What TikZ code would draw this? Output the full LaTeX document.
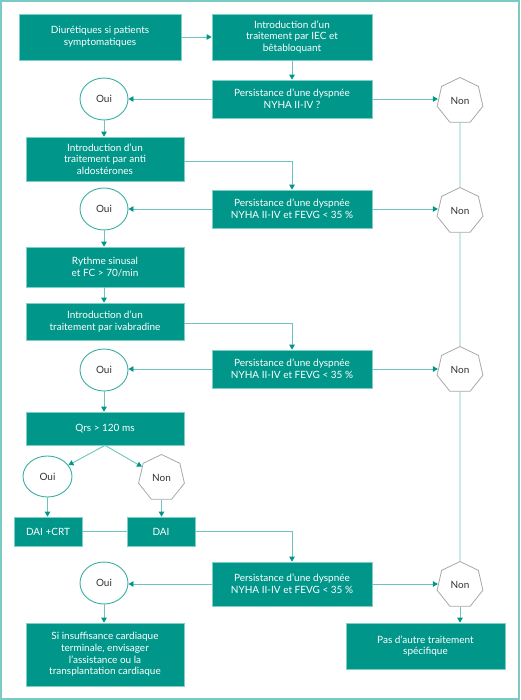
\documentclass[tikz,border=0pt]{standalone}
\usepackage{fontspec}
\setmainfont{Lato}
\usetikzlibrary{shapes.geometric,arrows.meta}
\definecolor{boxfill}{HTML}{00968A}
\definecolor{boxedge}{HTML}{7FCFC7}
\definecolor{linec}{HTML}{6CC6BE}
\definecolor{tipc}{HTML}{00968A}
\definecolor{ouic}{HTML}{3AAFA4}
\definecolor{nonc}{HTML}{A8A8A8}
\definecolor{framec}{HTML}{7ACBC3}
\definecolor{txtc}{HTML}{333333}
\tikzset{
  stepbox/.style={rectangle, fill=boxfill, draw=boxedge, line width=0.7pt, text=white, align=center, inner sep=0pt, font=\fontsize{10}{11.7}\selectfont},
  ouinode/.style={ellipse, draw=ouic, fill=white, line width=0.9pt, minimum width=48pt, minimum height=42pt, inner sep=0pt, text=txtc, font=\fontsize{10}{11.7}\selectfont},
  nonnode/.style={regular polygon, regular polygon sides=7, draw=nonc, fill=white, line width=0.8pt, minimum size=47pt, inner sep=0pt, text=txtc, font=\fontsize{10}{11.7}\selectfont},
  conn/.style={draw=linec, line width=0.9pt},
  arr/.style={conn, -{Triangle[length=5pt,width=5.5pt,color=tipc]}},
}
\begin{document}
\begin{tikzpicture}[x=1pt,y=-1pt]
\useasboundingbox (0,0) rectangle (520,700);
\draw[framec, line width=2pt] (1,1) rectangle (519,699);

% nodes
\node[stepbox, minimum width=162pt, minimum height=46pt] (b1) at (100,37) {Diurétiques si patients\\symptomatiques};
\node[stepbox, minimum width=160pt, minimum height=46pt] (b2) at (292,37) {Introduction d’un\\traitement par IEC et\\bêtabloquant};
\node[stepbox, minimum width=160pt, minimum height=38pt] (b3) at (292,99) {Persistance d’une dyspnée\\NYHA II-IV ?};
\node[ouinode] (o1) at (104,99) {Oui};
\node[nonnode] (n1) at (460,101) {Non};

\node[stepbox, minimum width=158pt, minimum height=44pt] (b4) at (105,159) {Introduction d’un\\traitement par anti\\aldostérones};
\node[stepbox, minimum width=160pt, minimum height=38pt] (b5) at (292,209) {Persistance d’une dyspnée\\NYHA II-IV et FEVG < 35 \%};
\node[ouinode] (o2) at (104,209) {Oui};
\node[nonnode] (n2) at (460,211) {Non};

\node[stepbox, minimum width=158pt, minimum height=40pt] (b6) at (105,267) {Rythme sinusal\\et FC > 70/min};
\node[stepbox, minimum width=158pt, minimum height=37pt] (b7) at (105,321.5) {Introduction d’un\\traitement par ivabradine};
\node[stepbox, minimum width=160pt, minimum height=38pt] (b8) at (292,369) {Persistance d’une dyspnée\\NYHA II-IV et FEVG < 35 \%};
\node[ouinode] (o3) at (104,370) {Oui};
\node[nonnode] (n3) at (460,370) {Non};

\node[stepbox, minimum width=158pt, minimum height=33pt] (b9) at (105,428.5) {Qrs > 120 ms};
\node[ouinode, minimum width=49pt, minimum height=41pt] (o4) at (47.5,476.5) {Oui};
\node[nonnode] (n4) at (161.5,478) {Non};
\node[stepbox, minimum width=68pt, minimum height=29pt] (b10) at (48,531.5) {DAI +CRT};
\node[stepbox, minimum width=68pt, minimum height=29pt] (b11) at (161,531.5) {DAI};

\node[stepbox, minimum width=160pt, minimum height=44pt] (b12) at (292,584) {Persistance d’une dyspnée\\NYHA II-IV et FEVG < 35 \%};
\node[ouinode] (o5) at (104,583) {Oui};
\node[nonnode] (n5) at (460,585) {Non};
\node[stepbox, minimum width=158pt, minimum height=63pt] (b13) at (105,654.5) {Si insuffisance cardiaque\\terminale, envisager\\l’assistance ou la\\transplantation cardiaque};
\node[stepbox, minimum width=159pt, minimum height=46pt] (b14) at (425.5,646) {Pas d’autre traitement\\spécifique};

% connectors
\draw[arr] (b1.east) -- (b2.west);
\draw[arr] (b2.south) -- (b3.north);
\draw[arr] (b3.west) -- (o1.east);
\draw[arr] (b3.east) -- (b3.east -| n1.west);
\draw[conn] (n1.south) -- (n2.north);
\draw[conn] (n2.south) -- (n3.north);
\draw[conn] (n3.south) -- (n5.north);

\draw[arr] (o1.south) -- (o1.south |- b4.north);
\draw[arr] ([yshift=-2pt]b4.east) -| (b5.north);
\draw[arr] (b5.west) -- (o2.east);
\draw[arr] (b5.east) -- (b5.east -| n2.west);

\draw[arr] (o2.south) -- (o2.south |- b6.north);
\draw[arr] (b6.south -| o2.south) -- (o2.south |- b7.north);
\draw[arr] ([yshift=-1.5pt]b7.east) -| (b8.north);
\draw[arr] (b8.west) -- (b8.west -| o3.east);
\draw[arr] (b8.east) -- (b8.east -| n3.west);

\draw[arr] (o3.south) -- (o3.south |- b9.north);
\draw[arr] (b9.south) -- (o4);
\draw[arr] (b9.south) -- (n4);
\draw[arr] (o4.south) -- (o4.south |- b10.north);
\draw[arr] (n4.south) -- (n4.south |- b11.north);
\draw[conn] (b10.east) -- (b11.west);
\draw[arr] (b11.east) -| (b12.north);

\draw[arr] (b12.west) -- (b12.west -| o5.east);
\draw[arr] (b12.east) -- (b12.east -| n5.west);
\draw[arr] (o5.south) -- (o5.south |- b13.north);
\draw[arr] (n5.south) -- (n5.south |- b14.north);
\end{tikzpicture}
\end{document}
